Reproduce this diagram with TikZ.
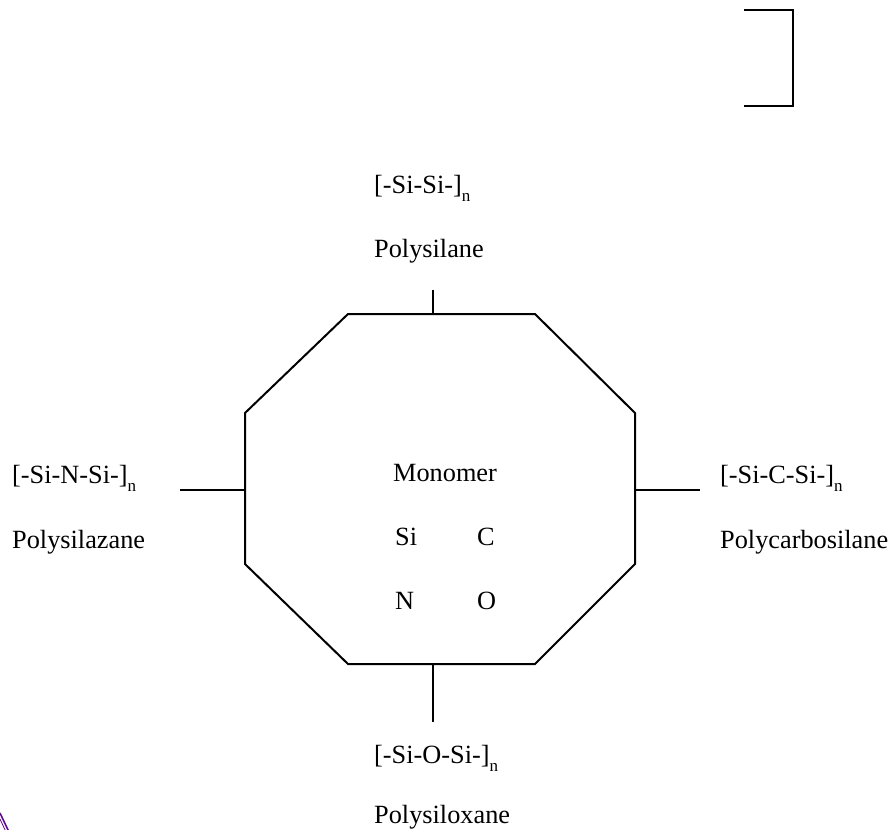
\documentclass[tikz,border=0pt]{standalone}
\usepackage{fontspec}
\setmainfont{Liberation Serif}
\begin{document}
\begin{tikzpicture}[x=1pt,y=-1pt,
  lbl/.style={anchor=base west,inner sep=0pt,font=\fontsize{26.3}{30}\selectfont},
  ln/.style={line width=2pt,black}]
\useasboundingbox (0,0) rectangle (892,830);
% octagon
\coordinate (o1) at (348,314);
\coordinate (o2) at (535,314);
\coordinate (o3) at (635,413);
\coordinate (o4) at (635,564);
\coordinate (o5) at (535,664);
\coordinate (o6) at (348,664);
\coordinate (o7) at (245,564);
\coordinate (o8) at (245,413);
\draw[ln,line join=miter] (o1)--(o2)--(o3)--(o4)--(o5)--(o6)--(o7)--(o8)--cycle;
% connector points
\coordinate (tA) at (433,314); \coordinate (tB) at (433,290);
\coordinate (bA) at (433,664); \coordinate (bB) at (433,722);
\coordinate (lA) at (245,490); \coordinate (lB) at (180,490);
\coordinate (rA) at (635,490); \coordinate (rB) at (700,490);
\draw[ln] (tA)--(tB);
\draw[ln] (bA)--(bB);
\draw[ln] (lA)--(lB);
\draw[ln] (rA)--(rB);
\newcommand{\nsub}{\raisebox{-0.33em}{\fontsize{17}{18}\selectfont n}}
% labels
\node[lbl] (f1) at (374,193) {[-Si-Si-]\nsub};
\node[lbl] (p1) at (374,257) {Polysilane};
\node[lbl] (f2) at (12,483) {[-Si-N-Si-]\nsub};
\node[lbl] (p2) at (12,548) {Polysilazane};
\node[lbl] (f3) at (720,483) {[-Si-C-Si-]\nsub};
\node[lbl] (p3) at (720,548) {Polycarbosilane};
\node[lbl] (f4) at (374,763) {[-Si-O-Si-]\nsub};
\node[lbl] (p4) at (374,823) {Polysiloxane};
\node[lbl] (mono) at (393,481) {Monomer};
\node[lbl] (si) at (395,545) {Si};
\node[lbl] (c) at (477,545) {C};
\node[lbl] (n) at (395,609) {N};
\node[lbl] (o) at (477,609) {O};
% bracket
\coordinate (k1) at (744,10); \coordinate (k2) at (793,10);
\coordinate (k3) at (793,106); \coordinate (k4) at (744,106);
\draw[ln,line join=miter] (k1)--(k2)--(k3)--(k4);
% purple fragment
\definecolor{frag}{RGB}{100,10,150}
\begin{scope}
\clip (0,800) rectangle (12,830);
\draw[frag,line width=1.6pt] (0,813)--(9,832);
\draw[frag,line width=0.8pt] (0,819)--(6,832);
\end{scope}
\end{tikzpicture}
\end{document}
